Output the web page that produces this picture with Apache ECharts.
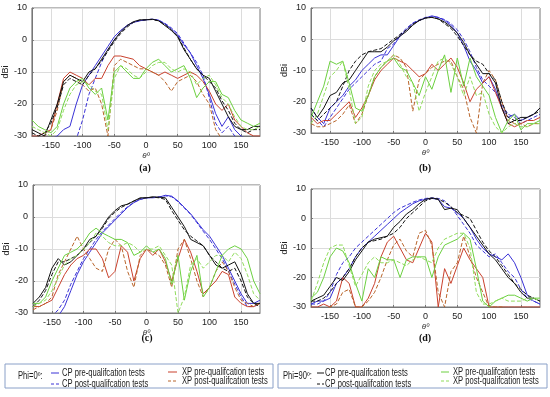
<!DOCTYPE html>
<html><head><meta charset="utf-8">
<script src="https://cdn.jsdelivr.net/npm/echarts@6/dist/echarts.min.js"></script>
<style>html,body{margin:0;padding:0;background:#fff}#c{width:550px;height:397px}</style>
</head><body><div id="c"></div>
<script>
const theta = [-180,-170,-160,-150,-140,-130,-120,-110,-100,-90,-80,-70,-60,-50,-40,-30,-20,-10,0,10,20,30,40,50,60,70,80,90,100,110,120,130,140,150,160,170,180];
const xTicks = [-150,-100,-50,0,50,100,150];
const yTicks = [-30,-20,-10,0,10];
const panelLabels = ['(a)','(b)','(c)','(d)'];

// Panel (a)
const a_cpPre0  = [-31,-31,-31,-31,-30,-28,-27,-20,-14,-11,-8,-5,-2,1,3,4.5,5.5,6,6.3,6.5,6.2,5,3.5,1.5,-1.5,-4,-8,-12,-17,-23,-27,-24,-28,-30,-31,-31,-31];
const a_cpPost0 = [-31,-31,-31,-31,-31,-31,-31,-31,-25,-17,-12,-7,-3,0,2.5,4.5,5.5,6,6.3,6.5,6.2,5.2,3.8,2,-1,-4,-7,-11,-18,-26,-29,-27,-30,-31,-31,-31,-31];
const a_xpPre0  = [-30,-30,-29,-28,-20,-12,-10,-11,-12,-14,-12,-12,-8,-5,-5,-5.5,-6,-8,-9,-10,-11,-10,-11,-12,-11,-10,-11,-13,-16,-20,-22,-20,-25,-27,-29,-30,-30];
const a_xpPost0 = [-31,-31,-30,-28,-22,-13,-11,-12,-14,-16,-15,-20,-30,-8,-6,-7,-8,-9,-9,-10,-11,-13,-16,-13,-12,-11,-13,-17,-20,-28,-31,-31,-31,-31,-31,-31,-31];
const a_cpPre90 = [-28,-29,-30,-25,-20,-13,-11,-12,-13,-10,-9,-6,-3,0,2.5,4.5,5.7,6.3,6.3,6.5,6,4.5,3,1,-3,-6,-9,-11,-12,-16,-20,-24,-27,-28,-28,-27,-27];
const a_cpPost90= [-29,-30,-29,-26,-21,-14,-12,-13,-14,-11,-9,-6.5,-3.5,-0.5,2,4,5.5,6.2,6.3,6.4,6,4.8,3.2,1.2,-2.5,-6,-9,-11,-13,-15,-19,-22,-26,-28,-29,-28,-28];
const a_xpPre90 = [-25,-27,-28,-29,-27,-20,-15,-13,-12,-15,-17,-15,-25,-10,-8,-10,-12,-12,-9,-7,-6,-8,-10,-9,-8,-12,-18,-15,-13,-13,-17,-18,-22,-25,-26,-27,-26];
const a_xpPost90= [-27,-28,-29,-30,-28,-22,-17,-14,-13,-14,-16,-17,-28,-12,-8,-9,-11,-12,-10,-8,-7,-7,-9,-10,-9,-10,-14,-12,-11,-14,-18,-20,-24,-27,-28,-28,-27];

// Panel (b)
const b_cpPre0  = [-22,-25,-27,-22,-20,-18,-15,-13,-10,-8,-6,-5,-5,-2,1,3,5,6,6.8,7.5,7,6,4.5,2,-2,-7,-10,-14,-12,-16,-22,-25,-24,-26,-25,-24,-22];
const b_cpPost0 = [-24,-26,-28,-25,-22,-19,-16,-14,-12,-10,-8,-7,-3,-1.5,1.5,3.5,5.2,6.2,7,7.2,7,6.3,5,3,0,-4,-9,-13,-15,-17,-21,-24,-25,-27,-26,-25,-24];
const b_xpPre0  = [-25,-27,-26,-26,-24,-22,-20,-25,-22,-18,-13,-10,-8,-6,-7,-8,-10,-12,-11,-8,-10,-8,-6,-9,-14,-20,-16,-14,-12,-17,-22,-27,-28,-27,-26,-26,-25];
const b_xpPost0 = [-27,-28,-28,-27,-26,-24,-21,-27,-24,-18,-12,-9,-7,-5,-6,-9,-23,-13,-11,-9,-8,-7,-7,-12,-16,-25,-30,-14,-10,-13,-20,-26,-27,-27,-28,-27,-27];
const b_cpPre90 = [-22,-25,-22,-18,-17,-14,-13,-10,-7,-4,-4,-4,-2.5,-0.5,1,2.5,4.5,6,6.8,7,6.5,5.5,4,2,-1,-5,-8,-11,-11,-14,-22,-27,-26,-25,-25,-24,-22];
const b_cpPost90= [-24,-26,-24,-22,-20,-15,-10,-7,-5,-4,-3.5,-3,-1.5,0,1.5,3,4.8,6,6.8,7,6.5,5,3.5,1,-2,-5,-7,-8,-11,-13,-20,-25,-26,-26,-25,-24,-23];
const b_xpPre90 = [-25,-20,-15,-7,-8,-7,-14,-22,-23,-18,-12,-9,-7,-6,-9,-10,-14,-18,-12,-16,-10,-5,-17,-6,-15,-6,-12,-15,-18,-25,-30,-26,-24,-29,-27,-27,-26];
const b_xpPost90= [-27,-24,-18,-12,-10,-7,-16,-27,-25,-15,-10,-8,-7,-5,-8,-12,-14,-23,-17,-12,-7,-6,-8,-12,-18,-12,-18,-17,-24,-28,-30,-28,-27,-28,-28,-27,-27];

// Panel (c)
const c_cpPre0  = [-31,-31,-31,-31,-31,-28,-23,-18,-14,-11,-8,-5,-3,-1,1,3,4.5,5.5,6,6,6.2,6.8,6.5,5,3,1,-1.5,-4,-6,-9,-12,-16,-20,-24,-27,-27,-26];
const c_cpPost0 = [-31,-31,-31,-31,-29,-26,-21,-17,-13,-10,-7,-4.5,-2.5,-0.5,1.5,3.2,4.6,5.5,6,6.1,6.3,6.6,6.3,4.8,2.8,0.8,-1.8,-4.5,-7,-10,-13,-17,-21,-25,-28,-28,-27];
const c_xpPre0  = [-28,-28,-27,-26,-22,-18,-15,-13,-12,-10,-10,-13,-19,-17,-9,-11,-20,-13,-10,-12,-10,-14,-20,-13,-7,-11,-17,-24,-22,-20,-17,-18,-25,-27,-28,-28,-27];
const c_xpPost0 = [-29,-28,-27,-25,-18,-14,-10,-6,-10,-13,-16,-17,-10,-7,-9,-17,-22,-12,-10,-11,-12,-15,-22,-10,-7,-13,-20,-25,-22,-17,-14,-17,-22,-26,-27,-28,-27];
const c_cpPre90 = [-27,-25,-22,-16,-13,-15,-14,-12,-10,-7,-6,-3,0,2,3.5,4,5,6,6,6.3,6.2,6,3,0,-3,-7,-8,-9,-12,-15,-16,-15,-14,-18,-24,-27,-27];
const c_cpPost90= [-28,-26,-23,-18,-14,-14,-13,-12,-10,-8,-6,-3.5,-0.5,1.5,3,4,5,5.8,6,6.2,6,5.5,2,-1,-4,-6,-7.5,-9,-12,-14,-16,-17,-16,-20,-25,-27,-28];
const c_xpPre90 = [-27,-27,-25,-20,-16,-12,-11,-10,-8,-5,-3.5,-5,-6,-7,-7,-8,-12,-11,-9,-11,-10,-13,-21,-12,-26,-17,-12,-25,-22,-17,-12,-10,-9,-10,-13,-20,-24];
const c_xpPost90= [-28,-27,-26,-23,-19,-15,-13,-12,-10,-8,-5,-6,-8,-9,-9,-8,-9,-11,-10,-10,-9,-12,-15,-30,-25,-15,-13,-16,-14,-12,-12,-14,-11,-13,-18,-24,-26];

// Panel (d)
const d_cpPre0  = [-29,-28,-28,-27,-22,-20,-17,-13,-10,-8,-6,-4,-2,0,2,3.5,5,6,6.5,6.8,6.5,4,3.5,2,0,-3,-7,-10,-12,-13,-14,-12,-15,-20,-26,-28,-29];
const d_cpPost0 = [-29,-29,-28,-25,-19,-15,-13,-10,-8,-6,-4,-2,0,2,3.5,4.5,5.5,6.3,6.8,7,6.8,6,4,1,-2,-5,-9,-11,-13,-12,-15,-18,-20,-24,-27,-28,-29];
const d_xpPre0  = [-30,-30,-29,-30,-28,-20,-22,-30,-30,-27,-22,-13,-8,-6,-10,-14,-15,-10,-5,-8,-30,-17,-22,-16,-10,-14,-17,-20,-30,-30,-30,-30,-30,-30,-30,-30,-30];
const d_xpPost0 = [-31,-31,-31,-30,-29,-25,-24,-30,-30,-28,-25,-20,-14,-9,-7,-11,-13,-5,-4,-9,-25,-30,-18,-15,-6,-13,-20,-25,-30,-30,-30,-31,-31,-31,-31,-31,-31];
const d_cpPre90 = [-28,-27,-26,-23,-20,-21,-18,-14,-11,-8,-7,-6.5,-6,-3,-1,1.5,3,5,6.5,7,6.5,3,3.5,3,0,-3,-6,-9,-12,-14,-17,-20,-22,-25,-27,-27,-28];
const d_cpPost90= [-28,-28,-27,-25,-22,-20,-17,-13,-10,-8,-7.5,-7,-6,-5,-3,0,2,4,6,6.8,6.6,5.5,4,2,1,0,-4,-8,-11,-13,-16,-19,-22,-24,-26,-27,-28];
const d_xpPre90 = [-27,-25,-20,-13,-10,-11,-15,-22,-28,-17,-20,-13,-14,-14,-20,-14,-13,-13,-13,-20,-13,-9,-8,-7,-5,-7,-17,-28,-30,-28,-27,-26,-26,-27,-28,-27,-27];
const d_xpPost90= [-28,-22,-15,-10,-9,-9,-16,-23,-19,-15,-13,-15,-15,-14,-15,-16,-14,-13,-14,-15,-10,-7,-6,-5,-5,-10,-25,-29,-29,-28,-27,-28,-28,-28,-27,-27,-28];

const panels = [
  [a_cpPre0,a_cpPost0,a_xpPre0,a_xpPost0,a_cpPre90,a_cpPost90,a_xpPre90,a_xpPost90],
  [b_cpPre0,b_cpPost0,b_xpPre0,b_xpPost0,b_cpPre90,b_cpPost90,b_xpPre90,b_xpPost90],
  [c_cpPre0,c_cpPost0,c_xpPre0,c_xpPost0,c_cpPre90,c_cpPost90,c_xpPre90,c_xpPost90],
  [d_cpPre0,d_cpPost0,d_xpPre0,d_xpPost0,d_cpPre90,d_cpPost90,d_xpPre90,d_xpPost90]
];
const colors = ['#3a32d6','#3a32d6','#c9402c','#b8642a','#111111','#111111','#6cd040','#8fdc5a'];
const dashed = [false,true,false,true,false,true,false,true];

const grids = [
  {left:30, top:8, width:230, height:128},
  {left:311, top:8, width:229, height:125},
  {left:33, top:185, width:227, height:128},
  {left:311, top:189, width:229, height:118}
];
const FONT = 'Liberation Sans, Arial, sans-serif';
const option = {
  animation:false,
  grid: grids.map(g=>Object.assign({show:true,borderColor:'#777',borderWidth:1,containLabel:false},g)),
  xAxis: grids.map((g,i)=>({
    type:'value', gridIndex:i, min:-180, max:180,
    name:'θº', nameLocation:'middle', nameGap:16,
    nameTextStyle:{fontSize:8, fontStyle:'italic', color:'#333', fontFamily:FONT},
    axisLine:{show:true,onZero:false,lineStyle:{color:'#777'}},
    axisTick:{show:true,inside:true,length:2,customValues:xTicks,lineStyle:{color:'#777'}},
    axisLabel:{customValues:xTicks,fontSize:9,color:'#222',margin:5,fontFamily:FONT},
    splitLine:{show:true,lineStyle:{color:'#dcdcdc',width:1}}
  })),
  yAxis: grids.map((g,i)=>({
    type:'value', gridIndex:i, min:-30, max:10, interval:10,
    name:'dBi', nameLocation:'middle', nameGap:17,
    nameTextStyle:{fontSize:9, color:'#222', fontFamily:FONT},
    axisLine:{show:true,onZero:false,lineStyle:{color:'#777'}},
    axisTick:{show:true,inside:true,length:2,lineStyle:{color:'#777'}},
    axisLabel:{fontSize:9,color:'#222',margin:5,fontFamily:FONT},
    splitLine:{show:true,lineStyle:{color:'#dcdcdc',width:1}}
  })),
  series: [],
  graphic: []
};
panels.forEach((arrs,gi)=>{
  arrs.forEach((arr,k)=>{
    option.series.push({
      type:'line', xAxisIndex:gi, yAxisIndex:gi, symbol:'none', silent:true,
      clip:true,
      data: theta.map((t,j)=>[t,arr[j]]),
      lineStyle:{width:1,color:colors[k],type:dashed[k]?[4,2]:'solid'}
    });
  });
});
// Panel labels
const plPos = [[145,168],[425,168],[147,338],[425,338]];
panelLabels.forEach((t,i)=>{
  option.graphic.push({type:'text',x:plPos[i][0],y:plPos[i][1],style:{text:t,font:'bold 10px "Liberation Serif", serif',fill:'#111',textAlign:'center',textVerticalAlign:'middle'}});
});
// Legends
const LFONT = '10px "Liberation Sans", sans-serif';
const SX = 0.76;
function legendBox(x0,w,title,titleX,items){
  option.graphic.push({type:'rect',shape:{x:x0,y:364,width:w,height:24},style:{fill:'#fff',stroke:'#8aa0c8',lineWidth:1}});
  option.graphic.push({type:'text',x:titleX,y:376,scaleX:SX,style:{text:title,font:LFONT,fill:'#222',textVerticalAlign:'middle'}});
  items.forEach(it=>{
    option.graphic.push({type:'line',shape:{x1:it.lx1,y1:it.y,x2:it.lx2,y2:it.y},style:{stroke:it.color,lineWidth:1,lineDash:it.dash?[3,2]:null}});
    option.graphic.push({type:'text',x:it.tx,y:it.y,scaleX:SX,style:{text:it.text,font:LFONT,fill:'#222',textVerticalAlign:'middle'}});
  });
}
legendBox(5,268,'Phi=0º:',18,[
  {lx1:51,lx2:59,y:373,tx:62,color:colors[0],dash:false,text:'CP pre-qualifcation tests'},
  {lx1:51,lx2:59,y:384,tx:62,color:colors[1],dash:true,text:'CP post-qualifcation tests'},
  {lx1:168,lx2:177,y:372,tx:182,color:colors[2],dash:false,text:'XP pre-qualifcation tests'},
  {lx1:168,lx2:177,y:381,tx:182,color:colors[3],dash:true,text:'XP post-qualifcation tests'}
]);
legendBox(278,269,'Phi=90º:',283,[
  {lx1:317,lx2:324,y:373,tx:325,color:colors[4],dash:false,text:'CP pre-qualifcation tests'},
  {lx1:317,lx2:324,y:384,tx:325,color:colors[5],dash:true,text:'CP post-qualifcation tests'},
  {lx1:441,lx2:449,y:372,tx:453,color:colors[6],dash:false,text:'XP pre-qualifcation tests'},
  {lx1:441,lx2:449,y:381,tx:453,color:colors[7],dash:true,text:'XP post-qualifcation tests'}
]);
const chart = echarts.init(document.getElementById('c'),null,{renderer:'canvas'});
chart.setOption(option);
</script></body></html>
